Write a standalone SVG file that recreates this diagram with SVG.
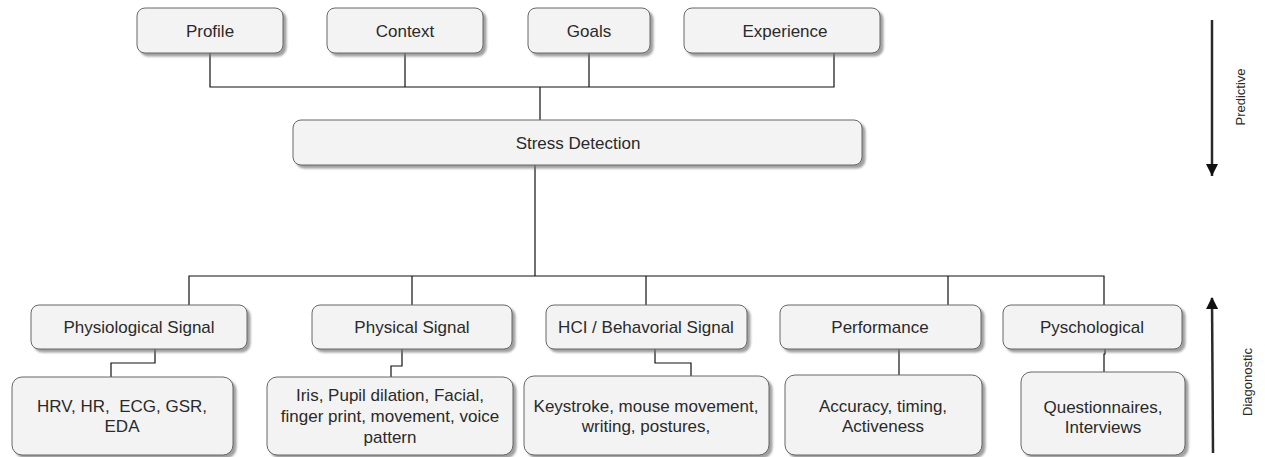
<svg xmlns="http://www.w3.org/2000/svg" width="1265" height="457" viewBox="0 0 1265 457">
<defs>
<filter id="sh" x="-10%" y="-20%" width="120%" height="150%">
<feDropShadow dx="3" dy="3" stdDeviation="1.2" flood-color="#777" flood-opacity="0.7"/>
</filter>
<marker id="ah" viewBox="0 0 12 14" refX="12" refY="6" markerWidth="12" markerHeight="14" orient="auto" markerUnits="userSpaceOnUse">
<path d="M0,0 L12,6 L0,12 z" fill="#111"/>
</marker>
<marker id="ahv" viewBox="0 0 12 12" refX="11" refY="6" markerWidth="14" markerHeight="12" orient="auto" markerUnits="userSpaceOnUse">
<path d="M0,0 L12,6 L0,12 z" fill="#111"/>
</marker>
</defs>
<style>
.box{fill:#f3f3f3;stroke:#666;stroke-width:1;filter:url(#sh)}
.t{font-family:"Liberation Sans",Arial,sans-serif;font-size:17px;fill:#2a2a2a;text-anchor:middle}
.c{fill:none;stroke:#111;stroke-width:1.2}
.ar{stroke:#2a2a2a;stroke-width:2.5;fill:none}
.side{font-family:"Liberation Sans",Arial,sans-serif;font-size:13px;fill:#2a2a2a;text-anchor:middle}
</style>
<rect width="1265" height="457" fill="#fff"/>
<g id="connectors">
<path class="c" d="M210,53 V87 H834 V53 M405,53 V87 M589,53 V87 M540,87 V120"/>
<path class="c" d="M535,165 V276 M189,305 V276 H1104 V305 M412,276 V305 M646,276 V305 M948,276 V305"/>
<path class="c" d="M155,349 V363 H111 V377"/>
<path class="c" d="M402,349 V366 H391 V377"/>
<path class="c" d="M655,349 V363 H691 V376"/>
<path class="c" d="M899,349 V375"/>
<path class="c" d="M1105,349 V354 H1104 V372"/>
</g>
<g id="profile"><rect class="box" x="137" y="8" width="146" height="45" rx="8"/><text class="t" x="210" y="37">Profile</text></g>
<g id="context"><rect class="box" x="327" y="8" width="156" height="45" rx="8"/><text class="t" x="405" y="37">Context</text></g>
<g id="goals"><rect class="box" x="528" y="8" width="122" height="45" rx="8"/><text class="t" x="589" y="37">Goals</text></g>
<g id="experience"><rect class="box" x="684" y="8" width="196" height="45" rx="8"/><text class="t" x="785" y="37">Experience</text></g>
<g id="stress"><rect class="box" x="293" y="120" width="569" height="45" rx="8"/><text class="t" x="578" y="149">Stress Detection</text></g>
<g id="physiological"><rect class="box" x="31" y="305" width="216" height="44" rx="8"/><text class="t" x="139" y="333">Physiological Signal</text></g>
<g id="physical"><rect class="box" x="312" y="305" width="200" height="44" rx="8"/><text class="t" x="412" y="333">Physical Signal</text></g>
<g id="hci"><rect class="box" x="546" y="305" width="201" height="44" rx="8"/><text class="t" x="646" y="333">HCI / Behavorial Signal</text></g>
<g id="performance"><rect class="box" x="780" y="305" width="201" height="44" rx="8"/><text class="t" x="880" y="333">Performance</text></g>
<g id="pyschological"><rect class="box" x="1003" y="305" width="179" height="44" rx="8"/><text class="t" x="1092" y="333">Pyschological</text></g>
<g id="hrv"><rect class="box" x="12" y="377" width="221" height="78" rx="10"/><text class="t" x="122" y="412" xml:space="preserve">HRV, HR,  ECG, GSR,</text><text class="t" x="122" y="432">EDA</text></g>
<g id="iris"><rect class="box" x="267" y="377" width="246" height="78" rx="10"/><text class="t" x="390" y="401">Iris, Pupil dilation, Facial,</text><text class="t" x="390" y="422">finger print, movement, voice</text><text class="t" x="390" y="443">pattern</text></g>
<g id="keystroke"><rect class="box" x="524" y="376" width="245" height="79" rx="10"/><text class="t" x="646" y="412">Keystroke, mouse movement,</text><text class="t" x="646" y="432">writing, postures,</text></g>
<g id="accuracy"><rect class="box" x="785" y="375" width="197" height="80" rx="10"/><text class="t" x="883" y="412">Accuracy, timing,</text><text class="t" x="883" y="432">Activeness</text></g>
<g id="questionnaires"><rect class="box" x="1021" y="372" width="164" height="83" rx="10"/><text class="t" x="1103" y="413">Questionnaires,</text><text class="t" x="1103" y="433">Interviews</text></g>
<g id="predictive"><line class="ar" x1="1212" y1="20" x2="1212" y2="176" marker-end="url(#ah)"/><text class="side" transform="translate(1245,97) rotate(-90)">Predictive</text></g>
<g id="diagnostic"><line class="ar" x1="1213" y1="453" x2="1212" y2="298" marker-end="url(#ahv)"/><text class="side" transform="translate(1252,382) rotate(-90)">Diagonostic</text></g>
</svg>
